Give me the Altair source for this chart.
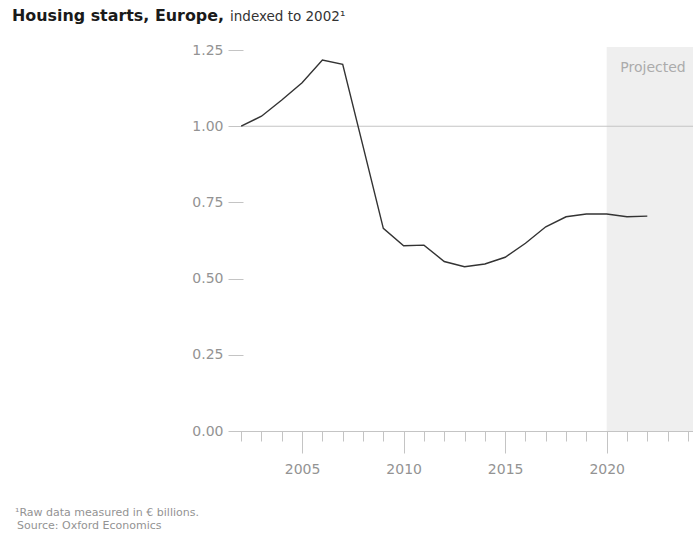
import altair as alt
import pandas as pd

# ---- data ----
years = list(range(2002, 2023))
index_values = [1.00, 1.033, 1.086, 1.143, 1.217, 1.203, 0.935, 0.665, 0.608, 0.610,
                0.556, 0.539, 0.548, 0.570, 0.616, 0.670, 0.703, 0.712, 0.712, 0.703, 0.705]
x_domain = [2001.45, 2024.25]
y_domain = [0, 1.26]
projected_start = 2020
minor_ticks = list(range(2002, 2025))
major_ticks = [2005, 2010, 2015, 2020]
y_ticks = [0, 0.25, 0.5, 0.75, 1.0, 1.25]
title_bold = "Housing starts, Europe,"
title_rest = "indexed to 2002¹"
foot1 = "¹Raw data measured in € billions."
foot2 = "Source: Oxford Economics"

FONT = "DejaVu Sans"
GRAY = "#939393"

df = pd.DataFrame({"year": years, "value": index_values})
proj = pd.DataFrame({"x": [projected_start], "x2": [x_domain[1]], "y": [y_domain[0]], "y2": [y_domain[1]]})
ref = pd.DataFrame({"x": [years[0]], "x2": [x_domain[1]], "y": [1.0]})
lab = pd.DataFrame({"x": [projected_start + 0.67], "y": [1.179], "t": ["Projected"]})

xscale = alt.Scale(domain=x_domain, nice=False, zero=False)
yscale = alt.Scale(domain=y_domain, nice=False)

minor_axis = alt.Axis(values=minor_ticks, tickSize=10, tickColor="#c4c4c4", labels=False,
                      domainColor="#c4c4c4", grid=False, title=None, orient="bottom")
major_axis = alt.Axis(values=major_ticks, tickSize=22, tickColor="#c4c4c4", labels=True,
                      labelFont=FONT, labelFontSize=14, labelColor=GRAY, labelPadding=9,
                      format="d", domain=False, grid=False, title=None, orient="bottom")
y_axis = alt.Axis(values=y_ticks, format=".2f", tickSize=15, offset=-13, tickColor="#c4c4c4",
                  domain=False, grid=False, labelFont=FONT, labelFontSize=14, labelColor=GRAY,
                  labelPadding=5, title=None)

rect = alt.Chart(proj).mark_rect(color="#efefef").encode(
    x=alt.X("x:Q", scale=xscale, axis=minor_axis),
    x2="x2:Q",
    y=alt.Y("y:Q", scale=yscale, axis=y_axis),
    y2="y2:Q",
)

rule = alt.Chart(ref).mark_rule(color="#c4c4c4", strokeWidth=1).encode(
    x=alt.X("x:Q", scale=xscale, axis=major_axis),
    x2="x2:Q",
    y=alt.Y("y:Q", scale=yscale),
)

line = alt.Chart(df).mark_line(color="#333333", strokeWidth=1.4).encode(
    x=alt.X("year:Q", scale=xscale, axis=None),
    y=alt.Y("value:Q", scale=yscale),
)

proj_text = alt.Chart(lab).mark_text(font=FONT, fontSize=14, color="#ababab", align="left",
                                     baseline="alphabetic").encode(
    x=alt.X("x:Q", scale=xscale, axis=None),
    y=alt.Y("y:Q", scale=yscale),
    text="t:N",
)

def txt(s, x, y, size, color, weight="normal"):
    return alt.Chart(pd.DataFrame({"t": [s]})).mark_text(
        font=FONT, fontSize=size, color=color, fontWeight=weight, align="left",
        baseline="alphabetic").encode(x=alt.value(x), y=alt.value(y), text="t:N")

t1 = txt(title_bold, -218, -26, 15.9, "#1a1a1a", "bold")
t2 = txt(title_rest, 0, -26, 13.5, "#333333")
f1 = txt(foot1, -215, 469, 11, GRAY)
f2 = txt(foot2, -213, 482, 11, GRAY)

chart = alt.layer(rect, rule, line, proj_text, t1, t2, f1, f2).resolve_axis(
    x="independent"
).properties(
    width=463, height=384,
    autosize=alt.AutoSizeParams(type="none"),
    padding={"left": 230, "top": 47, "right": 0, "bottom": 102},
).configure_view(stroke=None)

chart.save("out.html", embed_options={"renderer": "svg", "actions": False})
